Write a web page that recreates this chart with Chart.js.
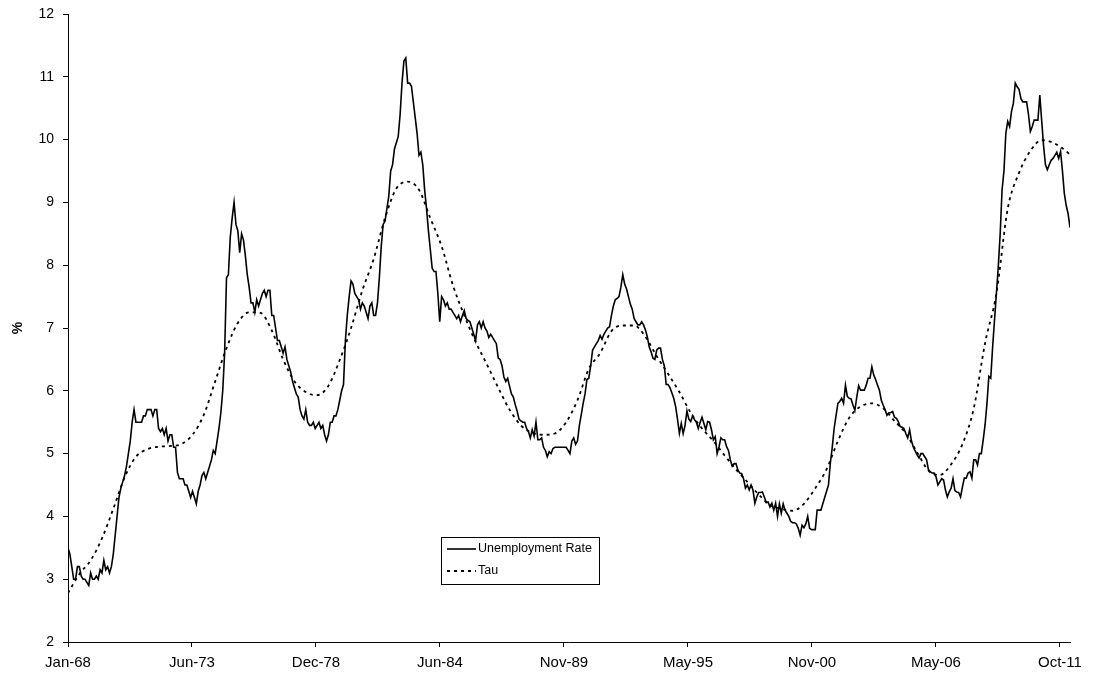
<!DOCTYPE html>
<html>
<head>
<meta charset="utf-8">
<script src="https://cdn.jsdelivr.net/npm/chart.js@4.4.0/dist/chart.umd.min.js"></script>
<style>
html,body{margin:0;padding:0;background:#fff;}
#wrap{width:1095px;height:684px;}
</style>
</head>
<body>
<div id="wrap"><canvas id="c" width="1095" height="684"></canvas></div>
<script>
// ---------- DATA ----------
const startYear = 1968; // first observation: Jan-68, monthly

// Unemployment rate, monthly, Jan-68 ... Apr-12 (one row per year)
const unemploymentRate = [
  3.5, 3.4, 3.2, 3.0, 3.0, 3.2, 3.2, 3.05, 3.0, 3.0, 2.95, 2.9,      // 1968
  3.1, 3.0, 3.0, 3.05, 3.0, 3.15, 3.1, 3.3, 3.15, 3.2, 3.1, 3.2,     // 1969
  3.4, 3.7, 4.0, 4.3, 4.45, 4.55, 4.65, 4.8, 5.0, 5.2, 5.5, 5.7,     // 1970
  5.5, 5.5, 5.5, 5.5, 5.6, 5.6, 5.7, 5.7, 5.7, 5.6, 5.7, 5.7,        // 1971
  5.4, 5.35, 5.4, 5.3, 5.4, 5.2, 5.3, 5.3, 5.1, 5.1, 4.7, 4.6,       // 1972
  4.6, 4.6, 4.5, 4.5, 4.4, 4.3, 4.4, 4.3, 4.2, 4.4, 4.5, 4.65,       // 1973
  4.7, 4.6, 4.7, 4.8, 4.9, 5.05, 5.0, 5.2, 5.4, 5.65, 6.0, 6.6,      // 1974
  7.8, 7.85, 8.45, 8.75, 9.0, 8.65, 8.55, 8.2, 8.5, 8.4, 8.15, 7.85, // 1975
  7.65, 7.4, 7.4, 7.25, 7.45, 7.35, 7.45, 7.55, 7.6, 7.5, 7.6, 7.6,  // 1976
  7.2, 7.2, 7.0, 6.8, 6.8, 6.7, 6.6, 6.7, 6.5, 6.4, 6.3, 6.15,       // 1977
  6.05, 5.95, 5.9, 5.7, 5.6, 5.55, 5.7, 5.5, 5.45, 5.45, 5.5, 5.4,   // 1978
  5.45, 5.5, 5.4, 5.45, 5.3, 5.2, 5.3, 5.5, 5.5, 5.6, 5.6, 5.7,      // 1979
  5.85, 6.0, 6.1, 6.8, 7.2, 7.5, 7.75, 7.7, 7.55, 7.5, 7.45, 7.3,    // 1980
  7.4, 7.35, 7.25, 7.15, 7.35, 7.4, 7.2, 7.2, 7.4, 7.8, 8.3, 8.65,   // 1981
  8.7, 8.9, 9.1, 9.5, 9.6, 9.85, 9.95, 10.05, 10.4, 10.9, 11.25, 11.3, // 1982
  10.9, 10.9, 10.85, 10.6, 10.35, 10.1, 9.75, 9.8, 9.6, 9.2, 8.9, 8.55, // 1983
  8.25, 7.95, 7.9, 7.9, 7.55, 7.1, 7.5, 7.45, 7.35, 7.4, 7.3, 7.3,   // 1984
  7.25, 7.2, 7.15, 7.2, 7.1, 7.2, 7.28, 7.15, 7.12, 7.1, 7.0, 6.9,   // 1985
  6.8, 7.05, 7.1, 7.0, 7.1, 7.0, 6.95, 6.85, 6.9, 6.85, 6.8, 6.75,   // 1986
  6.52, 6.5, 6.4, 6.22, 6.15, 6.2, 6.07, 5.95, 5.9, 5.78, 5.68, 5.55, // 1987
  5.52, 5.5, 5.5, 5.4, 5.35, 5.25, 5.38, 5.28, 5.5, 5.22, 5.22, 5.25, // 1988
  5.1, 5.05, 4.95, 5.03, 5.0, 5.08, 5.1, 5.1, 5.1, 5.1, 5.1, 5.1,    // 1989
  5.1, 5.05, 5.0, 5.2, 5.25, 5.15, 5.2, 5.45, 5.62, 5.8, 5.95, 6.18, // 1990
  6.2, 6.4, 6.65, 6.7, 6.75, 6.8, 6.88, 6.82, 6.9, 6.95, 7.0, 7.02,  // 1991
  7.2, 7.35, 7.45, 7.47, 7.5, 7.65, 7.85, 7.7, 7.62, 7.5, 7.38, 7.3, // 1992
  7.15, 7.1, 7.05, 7.05, 7.1, 7.05, 6.97, 6.86, 6.7, 6.62, 6.52, 6.5, // 1993
  6.65, 6.68, 6.68, 6.5, 6.4, 6.1, 6.1, 6.05, 5.97, 5.88, 5.75, 5.55, // 1994
  5.32, 5.48, 5.32, 5.45, 5.68, 5.55, 5.51, 5.6, 5.54, 5.5, 5.4, 5.5, // 1995
  5.58, 5.48, 5.38, 5.51, 5.5, 5.38, 5.22, 5.27, 5.0, 5.11, 5.25, 5.22, // 1996
  5.22, 5.11, 5.05, 4.9, 4.8, 4.84, 4.84, 4.74, 4.69, 4.68, 4.6, 4.45, // 1997
  4.5, 4.42, 4.5, 4.42, 4.21, 4.31, 4.38, 4.38, 4.39, 4.31, 4.22, 4.23, // 1998
  4.15, 4.21, 4.1, 4.21, 4.0, 4.2, 4.05, 4.2, 4.1, 4.05, 4.0, 3.92,  // 1999
  3.9, 3.9, 3.88, 3.81, 3.7, 3.86, 3.82, 3.88, 4.0, 3.81, 3.79, 3.79, // 2000
  3.79, 4.1, 4.1, 4.1, 4.2, 4.3, 4.4, 4.5, 4.85, 5.1, 5.4, 5.6,      // 2001
  5.8, 5.83, 5.88, 5.8, 6.09, 5.91, 5.88, 5.87, 5.77, 5.69, 5.9, 6.08, // 2002
  6.01, 6.01, 6.01, 6.09, 6.2, 6.2, 6.38, 6.25, 6.18, 6.09, 6.01, 5.85, // 2003
  5.77, 5.7, 5.61, 5.65, 5.65, 5.67, 5.58, 5.56, 5.51, 5.43, 5.42, 5.4, // 2004
  5.32, 5.25, 5.38, 5.2, 5.1, 5.04, 4.98, 4.93, 5.0, 5.0, 4.95, 4.9, // 2005
  4.74, 4.71, 4.69, 4.69, 4.63, 4.5, 4.55, 4.6, 4.58, 4.42, 4.31, 4.39, // 2006
  4.45, 4.6, 4.41, 4.39, 4.38, 4.31, 4.47, 4.61, 4.61, 4.69, 4.71, 4.61, // 2007
  4.9, 4.9, 4.82, 5.0, 5.0, 5.22, 5.46, 5.8, 6.23, 6.2, 6.7, 7.13,   // 2008
  7.55, 7.98, 8.5, 9.2, 9.5, 10.1, 10.29, 10.21, 10.45, 10.58, 10.9, 10.84, // 2009
  10.8, 10.65, 10.6, 10.6, 10.6, 10.4, 10.13, 10.21, 10.31, 10.31, 10.31, 10.71, // 2010
  10.3, 9.9, 9.6, 9.52, 9.6, 9.67, 9.7, 9.75, 9.8, 9.7, 9.81, 9.5,   // 2011
  9.14, 8.95, 8.82, 8.6                                              // 2012
];

// Tau (trend), read every six months (month index counted from Jan-68)
const tauMonths = [
  0, 6, 12, 18, 24, 30, 36, 42, 48, 54, 60, 66, 72, 78, 84, 90, 96, 102, 108, 114,
  120, 126, 132, 138, 144, 150, 156, 162, 168, 174, 180, 186, 192, 198, 204, 210, 216, 222, 228, 234,
  240, 246, 252, 258, 264, 270, 276, 282, 288, 294, 300, 306, 312, 318, 324, 330, 336, 342, 348, 354,
  360, 366, 372, 378, 384, 390, 396, 402, 408, 414, 420, 426, 432, 438, 444, 450, 456, 462, 468, 474,
  480, 486, 492, 498, 504, 510, 516, 522, 528, 531
];
const tauValues = [
  2.78, 3.08, 3.30, 3.65, 4.12, 4.62, 4.95, 5.07, 5.11, 5.12, 5.15, 5.30, 5.62, 6.15, 6.68, 7.08, 7.25, 7.24, 6.96, 6.50,
  6.15, 5.98, 5.93, 6.08, 6.49, 7.00, 7.60, 8.10, 8.75, 9.22, 9.33, 9.20, 8.75, 8.30, 7.68, 7.20, 6.78, 6.42, 6.05, 5.70,
  5.45, 5.33, 5.30, 5.32, 5.50, 5.85, 6.35, 6.60, 6.95, 7.04, 7.04, 6.86, 6.55, 6.27, 5.98, 5.65, 5.40, 5.20, 4.97, 4.75,
  4.55, 4.35, 4.18, 4.12, 4.09, 4.20, 4.45, 4.75, 5.20, 5.57, 5.75, 5.80, 5.72, 5.52, 5.32, 5.02, 4.73, 4.66, 4.83, 5.15,
  5.72, 6.76, 7.55, 8.90, 9.47, 9.82, 9.99, 9.95, 9.84, 9.76
];

const seriesNames = ['Unemployment Rate', 'Tau'];
const xTickLabels = ['Jan-68', 'Jun-73', 'Dec-78', 'Jun-84', 'Nov-89', 'May-95', 'Nov-00', 'May-06', 'Oct-11'];
const xTickStepDays = 2000; // date axis: a labelled tick every 2000 days from 1 Jan 1968
const yMin = 2, yMax = 12, yStep = 1;
const yAxisTitle = '%';

// ---------- BUILD ----------
const DAYS_PER_MONTH = 365.25 / 12;
const xTickPos = xTickLabels.map((_, i) => i * xTickStepDays / DAYS_PER_MONTH);

const unempPoints = unemploymentRate.map((v, i) => ({ x: i, y: v }));
const tauPoints = tauMonths.map((m, i) => ({ x: m, y: tauValues[i] }));

const FONT = "'Liberation Sans', Arial, Helvetica, sans-serif";
const DASH = [3, 4];

const boxLegend = {
  id: 'boxLegend',
  afterDraw(chart) {
    const ctx = chart.ctx;
    const ca = chart.chartArea;
    const bx = ca.left + 373, by = ca.top + 523, bw = 158, bh = 47;
    ctx.save();
    ctx.fillStyle = '#fff';
    ctx.fillRect(bx, by, bw, bh);
    ctx.strokeStyle = '#000';
    ctx.lineWidth = 1;
    ctx.strokeRect(bx + 0.5, by + 0.5, bw, bh);
    ctx.font = '12.5px ' + FONT;
    ctx.fillStyle = '#000';
    ctx.textBaseline = 'middle';
    ctx.textAlign = 'left';
    const rows = [by + 12, by + 34];
    chart.data.datasets.forEach((ds, i) => {
      const yy = rows[i];
      ctx.beginPath();
      ctx.lineWidth = ds.borderWidth;
      ctx.strokeStyle = ds.borderColor;
      ctx.setLineDash(ds.borderDash || []);
      ctx.moveTo(bx + 6, yy);
      ctx.lineTo(bx + 35, yy);
      ctx.stroke();
      ctx.setLineDash([]);
      ctx.fillText(ds.label, bx + 37, yy);
    });
    ctx.restore();
  }
};

new Chart(document.getElementById('c').getContext('2d'), {
  type: 'line',
  data: {
    datasets: [
      { label: seriesNames[0], data: unempPoints, borderColor: '#000', borderWidth: 1.6,
        pointRadius: 0, tension: 0, fill: false },
      { label: seriesNames[1], data: tauPoints, borderColor: '#000', borderWidth: 1.8,
        borderDash: DASH, pointRadius: 0, cubicInterpolationMode: 'monotone', fill: false }
    ]
  },
  options: {
    responsive: false,
    animation: false,
    devicePixelRatio: 1,
    layout: { padding: { top: 14, right: 25, left: 0, bottom: 0 } },
    plugins: { legend: { display: false }, tooltip: { enabled: false } },
    scales: {
      x: {
        type: 'linear',
        min: 0,
        max: unemploymentRate.length - 1,
        afterBuildTicks: (s) => { s.ticks = xTickPos.map(v => ({ value: v })); },
        afterFit: (s) => { s.height = 42; },
        ticks: {
          autoSkip: false, maxRotation: 0, minRotation: 0, padding: 7, color: '#000',
          font: { family: FONT, size: 15 },
          callback: (v, i) => xTickLabels[i]
        },
        grid: { display: true, drawOnChartArea: false, drawTicks: true, tickLength: 5, color: '#000', lineWidth: 1 },
        border: { display: true, color: '#000', width: 1 }
      },
      y: {
        min: yMin, max: yMax,
        afterFit: (s) => { s.width = 68; s.paddingTop = 0; s.paddingBottom = 0; },
        ticks: { stepSize: yStep, padding: 9, color: '#000', font: { family: FONT, size: 14 } },
        grid: { display: true, drawOnChartArea: false, drawTicks: true, tickLength: 5, color: '#000', lineWidth: 1 },
        border: { display: true, color: '#000', width: 1 },
        title: { display: true, text: yAxisTitle, color: '#000', font: { family: FONT, size: 14, weight: 'bold' },
                 padding: { top: 10, bottom: 0 } }
      }
    }
  },
  plugins: [boxLegend]
});
</script>
</body>
</html>
